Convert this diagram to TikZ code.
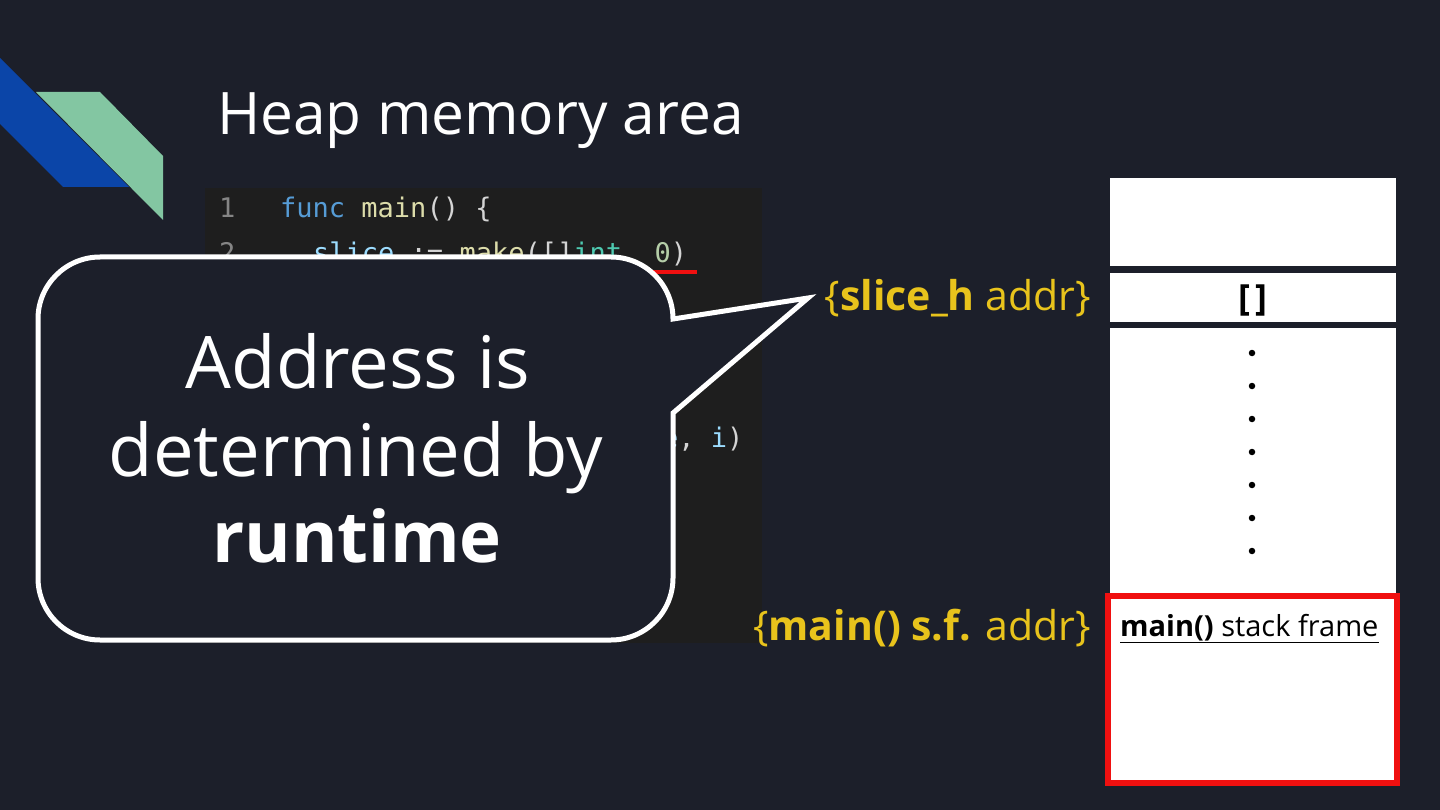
\documentclass[tikz,border=0pt]{standalone}
\usepackage{fontspec}
\setmainfont{Open Sans}
\newfontfamily\codefont{DejaVu Sans Mono}
\definecolor{bgc}{HTML}{1C1F2A}
\definecolor{codebg}{HTML}{1E1E1E}
\definecolor{logoblue}{HTML}{0B45A8}
\definecolor{logogreen}{HTML}{83C6A2}
\definecolor{lnum}{HTML}{858585}
\definecolor{kw}{HTML}{569CD6}
\definecolor{fn}{HTML}{DCDCAA}
\definecolor{var}{HTML}{9CDCFE}
\definecolor{plain}{HTML}{D4D4D4}
\definecolor{typ}{HTML}{4EC9B0}
\definecolor{num}{HTML}{B5CEA8}
\definecolor{addr}{HTML}{E8C31C}
\definecolor{redline}{HTML}{F01010}
\tikzset{
  code/.style={anchor=base west, inner sep=0pt, font=\codefont\fontsize{27}{32}\selectfont},
  callouttext/.style={anchor=base, inner sep=0pt, text=white, font=\fontsize{72.5}{88}\selectfont},
  addrlabel/.style={anchor=base east, inner sep=0pt, text=addr, font=\fontsize{41}{48}\selectfont},
  memblock/.style={fill=white, draw=none, inner sep=0pt, minimum width=286pt},
  dotmark/.style={circle, fill=black, inner sep=0pt, minimum size=6.5pt}
}
\begin{document}
\begin{tikzpicture}[x=1pt,y=1pt]
\useasboundingbox (0,0) rectangle (1440,-810);
\fill[bgc] (0,0) rectangle (1440,-810);
% logo
\fill[logoblue] (0,-58) -- (129,-187) -- (63,-187) -- (0,-124) -- cycle;
\fill[logogreen] (36,-92) -- (100,-92) -- (163,-156) -- (163,-220) -- cycle;
% title
\node[anchor=base west, inner sep=0pt, text=white, font=\fontsize{58.6}{70}\selectfont] (title) at (217,-135) {Heap memory area};
% code panel
\fill[codebg] (205,-188) rectangle (762,-643);
\node[code, text=lnum] (n1) at (219,-218) {1};
\node[code] (l1) at (280,-218) {\textcolor{kw}{func} \textcolor{fn}{main}\textcolor{plain}{() \{}};
\node[code, text=lnum] (n2) at (219,-263) {2};
\node[code] (l2) at (313,-263) {\textcolor{var}{slice} \textcolor{plain}{:=} \textcolor{fn}{make}\textcolor{plain}{([]}\textcolor{typ}{int}\textcolor{plain}{,} \textcolor{num}{0}\textcolor{plain}{)}};
\draw[redline, line width=4pt] (640,-272) -- (697,-272);
\node[code] (l6) at (662,-447) {\textcolor{var}{e}\textcolor{plain}{,} \textcolor{var}{i}\textcolor{plain}{)}};
% callout
\draw[white, line width=5pt, fill=bgc, line join=miter]
  (100,-257) -- (611,-257) arc[start angle=90, end angle=0, radius=62]
  -- (808,-298) -- (673,-413) -- (673,-578) arc[start angle=0, end angle=-90, radius=62]
  -- (100,-640) arc[start angle=270, end angle=180, radius=62]
  -- (38,-319) arc[start angle=180, end angle=90, radius=62] -- cycle;
\node[callouttext] (c1) at (358,-388) {Address is};
\node[callouttext] (c2) at (356,-476) {determined by};
\node[callouttext, font=\fontsize{71}{88}\selectfont] (c3) at (357,-562) {\textbf{runtime}};
% address labels
\node[addrlabel] (a1) at (1091,-310) {\{\textbf{slice\_h} addr\}};
\node[addrlabel] (a2) at (1091,-640) {\{\textbf{main() s.f.} addr\}};
% memory column
\node[memblock, minimum height=88pt] (m1) at (1253,-222) {};
\node[memblock, minimum height=49pt] (m2) at (1253,-297.5) {};
\node[anchor=base, inner sep=0pt, font=\bfseries\fontsize{36}{38}\selectfont] (br) at (1253,-311) {[\kern5pt]};
\node[memblock, minimum height=268pt] (m3) at (1253,-462) {};
\foreach \i/\yy in {1/353,2/386,3/419,4/452,5/485,6/518,7/551}{
  \node[dotmark] (d\i) at (1252,-\yy) {};
}
\node[fill=white, draw=redline, line width=6pt, inner sep=0pt, minimum width=289pt, minimum height=187pt] (sf) at (1252.5,-689.5) {};
\node[anchor=base west, inner sep=0pt, font=\fontsize{29}{34}\selectfont] (sft) at (1120,-636) {\underline{\textbf{main()} stack frame}};
\end{tikzpicture}
\end{document}
